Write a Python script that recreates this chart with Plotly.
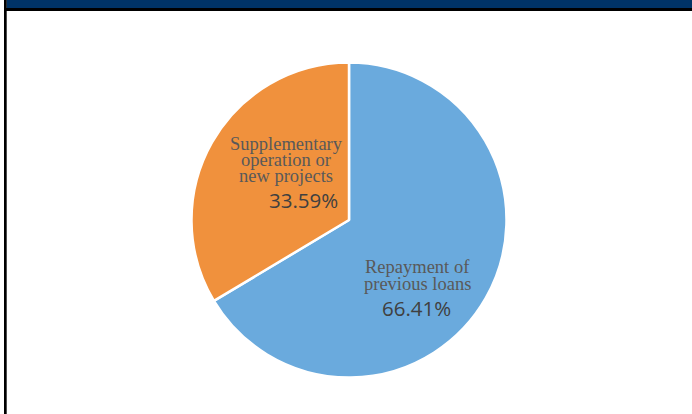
import plotly.graph_objects as go

# Share of funds by use
categories = ["Repayment of previous loans", "Supplementary operation or new projects"]
shares = [66.41, 33.59]
label_lines = [["Repayment of", "previous loans"],
               ["Supplementary", "operation or", "new projects"]]
colors = ["#6AAADD", "#F0913D"]

W, H = 692, 414


def px(x):
    return x / W


def py(y):
    return 1 - y / H


fig = go.Figure(go.Pie(
    labels=categories,
    values=shares,
    sort=False,
    direction="clockwise",
    rotation=0,
    marker=dict(colors=colors, line=dict(color="white", width=2.5)),
    textinfo="none",
    hoverinfo="label+percent",
    domain=dict(x=[px(191.5), px(506.5)], y=[py(378), py(62)]),
    showlegend=False,
))

# Label positions (pixel centres) for each slice: text lines then the percentage
label_spec = [
    dict(cx=418, lines_y=[267, 284], pct_x=416, pct_y=308),
    dict(cx=286, lines_y=[144, 160, 176], pct_x=303, pct_y=200),
]

annotations = []
for lines, spec, val in zip(label_lines, label_spec, shares):
    for text, y in zip(lines, spec["lines_y"]):
        annotations.append(dict(
            x=px(spec["cx"]), y=py(y), xref="paper", yref="paper",
            text=text, showarrow=False, xanchor="center", yanchor="middle",
            font=dict(family="Liberation Serif, Times New Roman, serif", size=18.5, color="#595959"),
        ))
    annotations.append(dict(
        x=px(spec["pct_x"]), y=py(spec["pct_y"]), xref="paper", yref="paper",
        text=f"{val:.2f}%", showarrow=False, xanchor="center", yanchor="middle",
        font=dict(family="Open Sans, Noto Sans, sans-serif", size=20.5, color="#404040"),
    ))

# Frame: navy header band, black rule below it and black left edge
shapes = [
    dict(type="rect", xref="paper", yref="paper", x0=px(6.5), x1=1, y0=py(8), y1=1,
         fillcolor="#003366", line=dict(width=0), layer="below"),
    dict(type="rect", xref="paper", yref="paper", x0=px(4), x1=1, y0=py(11), y1=py(8),
         fillcolor="#000000", line=dict(width=0)),
    dict(type="rect", xref="paper", yref="paper", x0=px(4), x1=px(6.7), y0=0, y1=1,
         fillcolor="#000000", line=dict(width=0)),
]

fig.update_layout(
    width=W, height=H,
    margin=dict(l=0, r=0, t=0, b=0),
    paper_bgcolor="white", plot_bgcolor="white",
    annotations=annotations,
    shapes=shapes,
)

fig.write_html("out.html")
